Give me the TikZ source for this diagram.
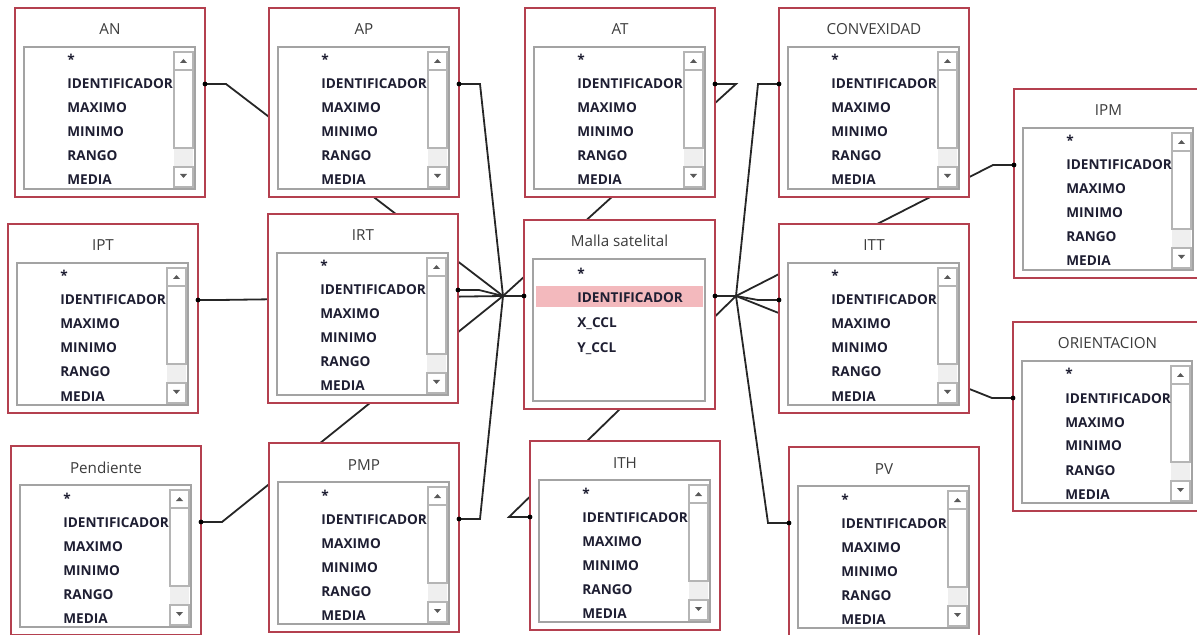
\documentclass[tikz,border=0pt]{standalone}
\usepackage{fontspec}
\setmainfont{Open Sans}
\usetikzlibrary{backgrounds}

\definecolor{rojo}{HTML}{B4404F}
\definecolor{gris}{HTML}{A3A3A3}
\definecolor{tinta}{HTML}{1E1E32}
\definecolor{titulo}{HTML}{3C3C3C}
\definecolor{resalte}{HTML}{F3B9BD}
\definecolor{pista}{HTML}{EFEFEF}

\tikzset{
  marco/.style={draw=rojo, line width=1pt, fill=white},
  lista/.style={draw=gris, line width=0.9pt, fill=white},
  boton/.style={draw=gris!80, line width=0.6pt, fill=white},
  flecha/.style={fill=black!65},
  campo/.style={anchor=base west, inner sep=0pt, text=tinta, font=\bfseries\fontsize{6.8}{8}\selectfont},
  titulo/.style={anchor=base, inner sep=0pt, text=titulo, font=\fontsize{7.6}{9}\selectfont},
  enlace/.style={line width=0.9pt, draw=black!85},
  punto/.style={circle, fill=black, inner sep=0pt, minimum size=2.4pt}
}

%frame, title, list box and end points of a table
%#1 name, #2 title, #3 x, #4 y, #5 width
\newcommand\marcotabla[5]{
  \begin{scope}[shift={(#3,#4)}]
    \filldraw[marco] (0,0) rectangle (#5,189);
    \node[titulo] (#1-t) at ({#5/2},27) {#2};
    \filldraw[lista] (9,39) rectangle ({#5-10},181);
    \coordinate (#1-w) at (0,76);
    \coordinate (#1-ws) at (-21,76);
    \coordinate (#1-e) at (#5,76);
    \coordinate (#1-es) at ({#5+21},76);
  \end{scope}
}

%table with scroll bar and the usual fields
\newcommand\tabla[5]{
  \marcotabla{#1}{#2}{#3}{#4}{#5}
  \begin{scope}[shift={(#3,#4)}]
    %scroll bar
    \fill[pista] ({#5-31},140) rectangle ({#5-12},159);
    \filldraw[boton] ({#5-31},62) rectangle ({#5-12},140);
    \filldraw[boton] ({#5-31},44) rectangle ({#5-12},62);
    \filldraw[boton] ({#5-31},159) rectangle ({#5-12},179);
    \fill[flecha] ({#5-25},55) -- ({#5-18},55) -- ({#5-21.5},51) -- cycle;
    \fill[flecha] ({#5-25},166) -- ({#5-18},166) -- ({#5-21.5},170) -- cycle;
    %fields
    \foreach \nombre [count=\i] in {*,IDENTIFICADOR,MAXIMO,MINIMO,RANGO,MEDIA}
      \node[campo] (#1-c\i) at (52,{33+24*\i}) {\nombre};
  \end{scope}
}

\begin{document}
\begin{tikzpicture}[x=0.5pt, y=-0.5pt]
  \useasboundingbox (0,0) rectangle (1197,635);

  \tabla{AN}{AN}{15}{8}{190}
  \tabla{AP}{AP}{269}{8}{190}
  \tabla{AT}{AT}{525}{8}{190}
  \tabla{CONVEXIDAD}{CONVEXIDAD}{779}{8}{190}
  \tabla{IPM}{IPM}{1014}{89}{189}
  \tabla{IPT}{IPT}{8}{224}{190}
  \tabla{IRT}{IRT}{268}{214}{190}
  \tabla{ITT}{ITT}{779}{224}{190}
  \tabla{ORIENTACION}{ORIENTACION}{1013}{322}{189}
  \tabla{Pendiente}{Pendiente}{11}{446}{190}
  \tabla{PMP}{PMP}{269}{443}{190}
  \tabla{ITH}{ITH}{530}{441}{190}
  \tabla{PV}{PV}{789}{447}{190}

  %central table
  \marcotabla{malla}{Malla satelital}{524}{220}{191}
  \begin{scope}[shift={(524,220)}]
    \fill[resalte] (12,66) rectangle (179,87);
    \foreach \nombre [count=\i] in {*,IDENTIFICADOR,X\_CCL,Y\_CCL}
      \node[campo] (malla-c\i) at (53,{33.5+24.7*\i}) {\nombre};
  \end{scope}

  %relationship lines, behind the tables
  \begin{pgfonlayer}{background}
    \foreach \t in {AN,AP,IPT,IRT,Pendiente,PMP,AT}
      \draw[enlace] (\t-e) -- (\t-es) -- (malla-ws) -- (malla-w);
    \foreach \t in {CONVEXIDAD,ITT,IPM,ORIENTACION,PV,ITH}
      \draw[enlace] (\t-w) -- (\t-ws) -- (malla-es) -- (malla-e);
  \end{pgfonlayer}

  \foreach \p in {AN-e,AP-e,IPT-e,IRT-e,Pendiente-e,PMP-e,AT-e,
                  CONVEXIDAD-w,ITT-w,IPM-w,ORIENTACION-w,PV-w,ITH-w,malla-w,malla-e}
    \node[punto] (\p-d) at (\p) {};
\end{tikzpicture}
\end{document}
